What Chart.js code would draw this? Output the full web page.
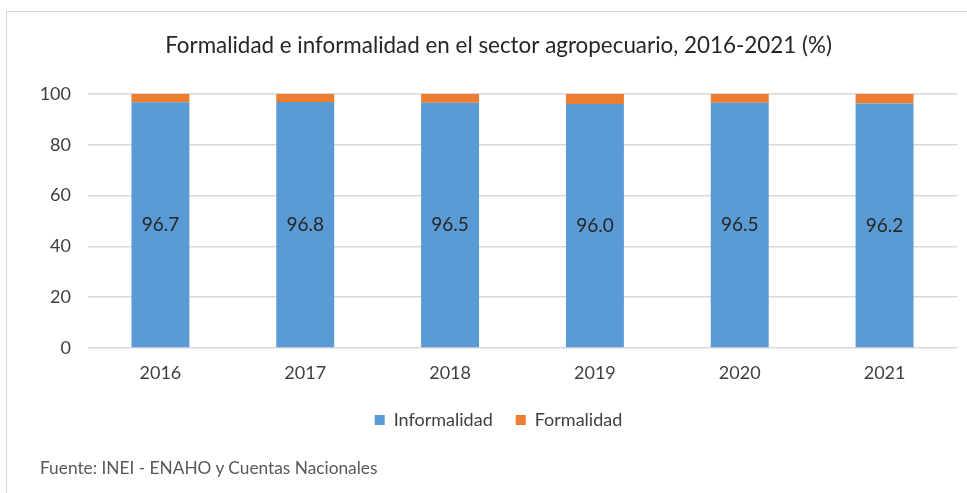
<!DOCTYPE html>
<html><head><meta charset="utf-8">
<script src="https://cdn.jsdelivr.net/npm/chart.js@4"></script>
<style>
html,body{margin:0;padding:0;background:#fff;}
#wrap{position:absolute;left:0;top:0;width:967px;height:493px;overflow:hidden;}
#frame{position:absolute;left:6px;top:11px;width:970px;height:500px;border:1px solid #d9d9d9;box-sizing:border-box;}
#c{position:absolute;left:0;top:0;}
#src{position:absolute;left:40px;top:457px;font-family:Lato,"Open Sans",sans-serif;font-size:17.3px;line-height:22px;color:#595959;}
</style></head>
<body><div id="wrap"><div id="frame"></div><canvas id="c" width="967" height="493"></canvas><div id="src">Fuente: INEI - ENAHO y Cuentas Nacionales</div></div>
<script>
const categories = ["2016","2017","2018","2019","2020","2021"];
const informalidad = [96.7, 96.8, 96.5, 96.0, 96.5, 96.2];
const formalidad = [3.3, 3.2, 3.5, 4.0, 3.5, 3.8];
const yTicks = [0,20,40,60,80,100];

const FONT = 'Lato, "Open Sans", sans-serif';
const labelPlugin = {
  id:'barLabels',
  afterDatasetsDraw(chart){
    const ctx = chart.ctx;
    const meta = chart.getDatasetMeta(0);
    ctx.save();
    ctx.font = '19px ' + FONT;
    ctx.fillStyle = '#262626';
    ctx.textAlign = 'center';
    ctx.textBaseline = 'middle';
    meta.data.forEach((bar,i)=>{
      const y = (bar.y + bar.base)/2;
      ctx.fillText(informalidad[i].toFixed(1), bar.x, y);
    });
    ctx.restore();
  }
};

new Chart(document.getElementById('c'), {
  type:'bar',
  data:{
    labels:categories,
    datasets:[
      {label:'Informalidad', data:informalidad, backgroundColor:'#5B9BD5', barPercentage:0.40, categoryPercentage:1},
      {label:'Formalidad', data:formalidad, backgroundColor:'#ED7D31', barPercentage:0.40, categoryPercentage:1}
    ]
  },
  options:{
    responsive:false,
    animation:false,
    layout:{padding:{left:40,right:10,top:0,bottom:54}},
    plugins:{
      title:{display:true,text:'Formalidad e informalidad en el sector agropecuario, 2016-2021 (%)',
        font:{family:FONT,size:22.4,weight:'normal'},color:'#262626',padding:{top:32,bottom:35}},
      legend:{position:'bottom',labels:{boxWidth:10,boxHeight:10,font:{family:FONT,size:18},color:'#404040',padding:23}},
      tooltip:{enabled:false}
    },
    scales:{
      x:{stacked:true,grid:{display:false,drawTicks:false},border:{display:false},
        afterFit(axis){axis.height = 40;},
        ticks:{font:{family:FONT,size:18},color:'#404040',padding:14}},
      y:{stacked:true,min:0,max:100,
        afterBuildTicks(axis){axis.ticks = yTicks.map(v=>({value:v}));},
        afterFit(axis){axis.width = 48;},
        grid:{color:'#d9d9d9',lineWidth:1.5,drawTicks:false},border:{display:false},
        ticks:{font:{family:FONT,size:18},color:'#404040',padding:17}}
    }
  },
  plugins:[labelPlugin]
});
</script></body></html>
